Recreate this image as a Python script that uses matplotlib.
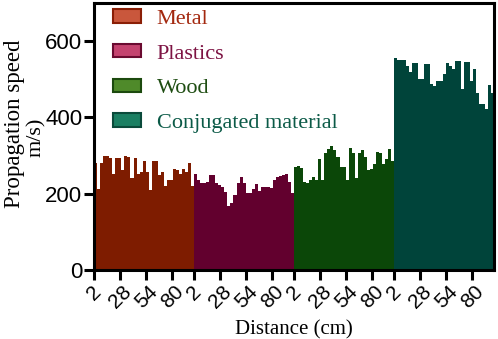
import matplotlib
matplotlib.use("Agg")
import matplotlib.pyplot as plt
from matplotlib.patches import Patch
import numpy as np

materials = ["Metal", "Plastics", "Wood", "Conjugated material"]
tick_labels = ["2", "28", "54", "80"]
tick_values = [2, 28, 54, 80]

metal = [280, 212, 280, 299, 299, 293, 253, 293, 293, 262, 299, 297, 240, 293, 253, 257,
         287, 257, 210, 287, 287, 249, 257, 220, 235, 235, 266, 262, 253, 266, 257, 280, 220]
plastics = [252, 235, 229, 227, 231, 250, 250, 227, 222, 218, 205, 168, 175, 197, 228, 244,
            227, 203, 203, 212, 225, 208, 218, 217, 217, 214, 237, 244, 247, 250, 253, 231, 201]
wood = [269, 273, 267, 232, 229, 235, 244, 237, 290, 237, 306, 318, 324, 314, 297, 270,
        270, 237, 321, 308, 242, 308, 314, 297, 262, 265, 277, 310, 308, 277, 292, 318, 287]
conjugated = [555, 550, 551, 551, 534, 519, 543, 543, 500, 501, 540, 540, 487, 483, 496, 496,
              514, 543, 534, 528, 548, 548, 475, 545, 545, 495, 526, 465, 435, 435, 421, 485, 463]

series = [metal, plastics, wood, conjugated]
bar_colors = ["#7e1c00", "#62002e", "#0b4708", "#00443a"]
legend_face = ["#c9573c", "#c4436f", "#4f8a2a", "#1a7f62"]
legend_edge = ["#8a1e06", "#6a0a30", "#1c4a0e", "#0a4a3a"]
text_colors = ["#a3280f", "#7d1343", "#1e4d12", "#0b5a47"]

W, H = 498, 339
fig = plt.figure(figsize=(W / 100, H / 100), dpi=100)
ax = fig.add_axes([0.189, 0.2035, 0.803, 0.7875])

seg_width = 100
for k, vals in enumerate(series):
    n = len(vals)
    w = seg_width / n
    xs = k * seg_width + 2 + np.arange(n) * w
    ax.bar(xs, vals, width=w, align="edge", color=bar_colors[k], edgecolor="none", linewidth=0)

ax.set_xlim(2, 2 + 4 * seg_width)
ax.set_ylim(0, 700)

xt = [k * seg_width + t for k in range(4) for t in tick_values]
ax.set_xticks(xt)
ax.set_xticklabels(tick_labels * 4, rotation=45, ha="center", va="top",
                   fontsize=15, family="Liberation Sans")
ax.set_yticks([0, 200, 400, 600])
ax.set_yticklabels(["0", "200", "400", "600"], fontsize=16, family="Liberation Sans")

for s in ax.spines.values():
    s.set_linewidth(2.2)
ax.tick_params(axis="both", direction="out", length=7, width=2.2, pad=1.5)

ax.set_xlabel("Distance (cm)", fontsize=15, family="Liberation Serif", labelpad=6)

# y-axis label (two lines, placed individually as in the reference)
fig.text(15 / W, 1 - 124 / H, "Propagation speed", rotation=90, ha="center", va="center",
         fontsize=16.5, family="Liberation Serif")
fig.text(36 / W, 1 - 137 / H, "m/s)", rotation=90, ha="center", va="center",
         fontsize=16, family="Liberation Serif")

handles = [Patch(facecolor=legend_face[i], edgecolor=legend_edge[i], linewidth=1.5)
           for i in range(4)]
leg = ax.legend(handles, materials, loc="upper left", bbox_to_anchor=(0.02, 1.018),
                frameon=False, prop={"family": "Liberation Serif", "size": 16},
                handlelength=1.25, handleheight=0.55, handletextpad=0.7, labelspacing=0.68,
                borderaxespad=0.1)
for t, c in zip(leg.get_texts(), text_colors):
    t.set_color(c)

fig.savefig("out.png", dpi=100)
